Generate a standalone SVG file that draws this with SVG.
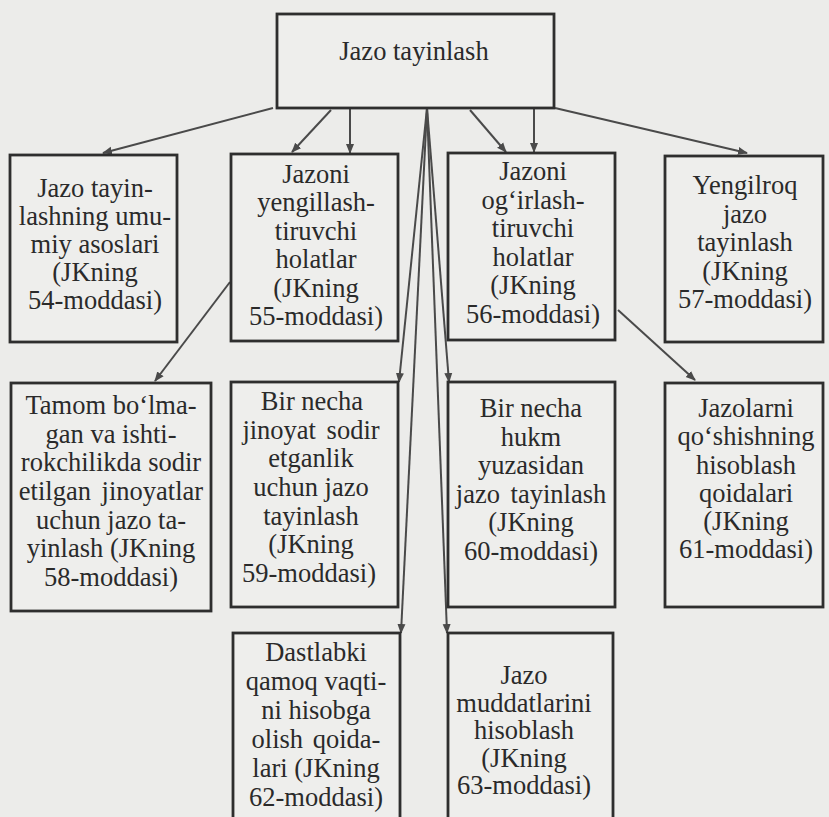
<svg xmlns="http://www.w3.org/2000/svg" width="829" height="817" viewBox="0 0 829 817">
  <style>
    .bg { fill: #ececea; }
    .box { fill: #eeeeec; stroke: #2e2e2e; stroke-width: 2.8; }
    .link { stroke: #4a4a4a; stroke-width: 2; fill: none; marker-end: url(#head); }
    text { font-family: 'Liberation Serif', 'DejaVu Serif', serif; font-size: 26.5px; fill: #2a2a2a; text-anchor: middle; }
  </style>
  <defs>
    <marker id="head" viewBox="0 0 10 10" refX="9" refY="5" markerWidth="5" markerHeight="5" orient="auto" markerUnits="strokeWidth">
      <path d="M0,1 L10,5 L0,9 Z" fill="#4a4a4a"/>
    </marker>
  </defs>

  <rect class="bg" x="0" y="0" width="829" height="817"/>

  <g id="connectors">
    <line class="link" x1="273" y1="108" x2="103" y2="153"/>
    <line class="link" x1="331" y1="110" x2="292" y2="152"/>
    <line class="link" x1="350" y1="108" x2="350" y2="153"/>
    <line class="link" x1="470" y1="110" x2="506" y2="152"/>
    <line class="link" x1="534" y1="108" x2="534" y2="152"/>
    <line class="link" x1="555" y1="108" x2="747" y2="153"/>
    <line class="link" x1="427" y1="108" x2="399" y2="382"/>
    <line class="link" x1="427" y1="108" x2="401" y2="633"/>
    <line class="link" x1="427" y1="108" x2="447" y2="633"/>
    <line class="link" x1="427" y1="108" x2="449" y2="382"/>
    <line class="link" x1="230" y1="282" x2="155" y2="381"/>
    <line class="link" x1="618" y1="310" x2="695" y2="380"/>
  </g>

  <g id="jazo-tayinlash">
    <rect class="box" x="277" y="14" width="277" height="94"/>
    <text x="414" y="60">Jazo tayinlash</text>
  </g>

  <g id="umumiy-asoslar">
    <rect class="box" x="10" y="155" width="167" height="187"/>
    <text x="95" y="197">Jazo tayin-</text>
    <text x="95" y="225">lashning umu-</text>
    <text x="95" y="253">miy asoslari</text>
    <text x="95" y="281">(JKning</text>
    <text x="95" y="309">54-moddasi)</text>
  </g>

  <g id="yengillashtiruvchi">
    <rect class="box" x="231" y="154" width="167" height="187"/>
    <text x="316" y="183">Jazoni</text>
    <text x="316" y="211">yengillash-</text>
    <text x="316" y="240">tiruvchi</text>
    <text x="316" y="268">holatlar</text>
    <text x="316" y="297">(JKning</text>
    <text x="316" y="325">55-moddasi)</text>
  </g>

  <g id="ogirlashtiruvchi">
    <rect class="box" x="448" y="153" width="167" height="187"/>
    <text x="533" y="180">Jazoni</text>
    <text x="533" y="208.5">og‘irlash-</text>
    <text x="533" y="237">tiruvchi</text>
    <text x="533" y="265.5">holatlar</text>
    <text x="533" y="294">(JKning</text>
    <text x="533" y="322.5">56-moddasi)</text>
  </g>

  <g id="yengilroq-jazo">
    <rect class="box" x="665" y="156" width="158" height="186"/>
    <text x="745" y="194">Yengilroq</text>
    <text x="745" y="222.5">jazo</text>
    <text x="745" y="251">tayinlash</text>
    <text x="745" y="279.5">(JKning</text>
    <text x="745" y="308">57-moddasi)</text>
  </g>

  <g id="tamom-bolmagan">
    <rect class="box" x="11" y="383" width="200" height="228"/>
    <text x="111" y="414">Tamom bo‘lma-</text>
    <text x="111" y="442.7">gan va ishti-</text>
    <text x="111" y="471.3">rokchilikda sodir</text>
    <text x="111" y="500" word-spacing="4">etilgan jinoyatlar</text>
    <text x="111" y="528.7">uchun jazo ta-</text>
    <text x="111" y="557.3">yinlash (JKning</text>
    <text x="111" y="586">58-moddasi)</text>
  </g>

  <g id="bir-necha-jinoyat">
    <rect class="box" x="231" y="382" width="167" height="225"/>
    <text x="312" y="410">Bir necha</text>
    <text x="311" y="438.7" word-spacing="4">jinoyat sodir</text>
    <text x="311" y="467.3">etganlik</text>
    <text x="311" y="496">uchun jazo</text>
    <text x="311" y="524.7">tayinlash</text>
    <text x="311" y="553.3">(JKning</text>
    <text x="309" y="582">59-moddasi)</text>
  </g>

  <g id="bir-necha-hukm">
    <rect class="box" x="448" y="382" width="167" height="225"/>
    <text x="531" y="417">Bir necha</text>
    <text x="531" y="445.6">hukm</text>
    <text x="531" y="474.2">yuzasidan</text>
    <text x="531" y="502.8" word-spacing="4">jazo tayinlash</text>
    <text x="531" y="531.4">(JKning</text>
    <text x="531" y="560">60-moddasi)</text>
  </g>

  <g id="jazolarni-qoshish">
    <rect class="box" x="665" y="383" width="158" height="224"/>
    <text x="746" y="417">Jazolarni</text>
    <text x="746" y="445">qo‘shishning</text>
    <text x="746" y="473.5">hisoblash</text>
    <text x="746" y="501.5">qoidalari</text>
    <text x="746" y="530">(JKning</text>
    <text x="746" y="558">61-moddasi)</text>
  </g>

  <g id="dastlabki-qamoq">
    <rect class="box" x="233" y="633" width="167" height="200"/>
    <text x="316" y="661">Dastlabki</text>
    <text x="316" y="690">qamoq vaqti-</text>
    <text x="316" y="719">ni hisobga</text>
    <text x="316" y="748" word-spacing="3">olish qoida-</text>
    <text x="316" y="777">lari (JKning</text>
    <text x="316" y="806">62-moddasi)</text>
  </g>

  <g id="jazo-muddatlari">
    <rect class="box" x="448" y="633" width="165" height="200"/>
    <text x="524" y="684">Jazo</text>
    <text x="524" y="711.5">muddatlarini</text>
    <text x="524" y="739">hisoblash</text>
    <text x="524" y="766.5">(JKning</text>
    <text x="524" y="794">63-moddasi)</text>
  </g>
</svg>
